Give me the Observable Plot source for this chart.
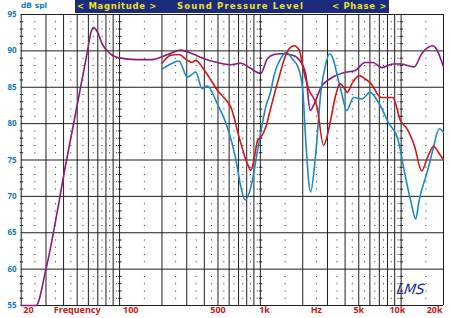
<!DOCTYPE html>
<html><head><meta charset="utf-8">
<script src="https://cdn.jsdelivr.net/npm/d3@7"></script>
<script src="https://cdn.jsdelivr.net/npm/@observablehq/plot@0.6"></script>
<style>
body{margin:0;background:#fff;}
#wrap{position:relative;width:450px;height:318px;overflow:hidden;font-family:"DejaVu Sans",sans-serif;}
#hdr{position:absolute;left:75px;top:0;width:314px;height:13px;background:#1c2b7c;}
.ht{position:absolute;top:0;font-weight:bold;font-size:8.5px;line-height:13px;color:#ece424;white-space:nowrap;}
#dbspl{position:absolute;left:21px;top:1px;font-weight:bold;font-size:7.5px;color:#1a7ab8;white-space:nowrap;}
#lms{position:absolute;left:397px;top:281px;font-family:"DejaVu Sans",sans-serif;font-style:italic;font-size:14px;color:#1a3290;letter-spacing:-0.5px;transform:skewX(-8deg);}
</style></head>
<body><div id="wrap">
<div id="chart"></div>
<div id="hdr"></div>
<div class="ht" data-w="80" style="left:77px">&lt; Magnitude &gt;</div>
<div class="ht" data-w="127" style="left:177px">Sound Pressure Level</div>
<div class="ht" data-w="55" style="left:332px">&lt; Phase &gt;</div>
<div id="dbspl">dB spl</div>
<div id="lms">LMS</div>
</div>
<script>
// Magnitude (purple) curve
const magFreq = [20,25.5,30,42,59.2,62.5,65.5,70,75,86,102,130,170,220,272,330,378,495,611,727,850,1006,1120,1250,1400,1700,1900,2100,2258,2450,2696,3150,3900,4717,5540,6300,7300,8700,9900,12400,14000,16800,20000];
const magDb   = [55,55,60,75,90,92.5,93.2,92.5,91.0,89.6,89.0,88.8,88.8,89.5,90.1,89.6,89.1,88.4,88.1,88.3,87.6,86.9,88.9,89.5,89.6,89.4,88.7,86.8,81.8,83.0,85.0,86.2,87.0,87.3,88.4,88.4,87.7,88.2,88.2,87.8,89.6,90.7,87.8];
// Red curve
const redFreq = [200,231,264,303,328,347,386,432,495,583,616,707,808,857,910,955,1006,1093,1180,1280,1400,1470,1600,1737,1900,2000,2200,2526,2815,3000,3150,3400,3680,3900,4140,4500,5036,5500,6100,7200,8730,9900,11000,12500,14000,15500,17000,18500,20000];
const redDb   = [88.3,89.4,89.5,88.7,88.4,88.7,87.8,86.4,84.6,83.0,82.3,78.1,74.5,73.6,75.5,77.7,78.1,79.5,82.0,84.6,87.3,88.7,90.3,90.7,90.0,87.8,84.8,82.3,77.0,78.5,80.4,83.6,85.5,85.0,84.3,85.6,86.6,86.2,85.5,83.6,83.6,80.4,79.3,76.8,73.5,75.5,76.9,76.0,75.0];
// Blue curve
const blueFreq = [200,231,264,303,328,347,386,418,495,583,665,727,780,857,955,1093,1190,1250,1400,1525,1700,1850,2000,2100,2275,2460,2700,2900,3100,3300,3500,3800,4100,4600,5300,6000,7000,8200,9400,9900,10500,11700,12700,13400,15450,16760,18670,20000];
const blueDb   = [87.5,88.2,88.6,86.4,86.8,87.1,84.8,85.2,82.7,79.5,75.4,71.3,69.5,71.3,76.3,82.3,84.6,86.6,89.0,89.8,88.8,87.8,84.6,77.7,70.6,75.4,84.6,88.0,89.6,88.8,86.8,84.0,81.8,83.6,83.4,84.3,82.7,80.0,78.1,76.3,73.6,69.4,66.9,69.4,73.6,76.3,79.3,78.8];

const yTicks = [55,60,65,70,75,80,85,90,95];
const solidFreqs = [20,30,40,50,60,70,80,90,100,200,300,400,500,600,700,800,900,1000,2000,3000,4000,5000,6000,7000,8000,9000,10000,20000];
const dottedFreqs = [25,35,45,55,65,75,85,95,150,250,350,450,550,650,750,850,950,1500,2500,3500,4500,5500,6500,7500,8500,9500,15000];
const tickedFreqs = [20,100,1000,10000];
const xLabelText = ["20","Frequency","100","500","1k","Hz","5k","10k","20k"];
const xLabelFreq = [22.5,50,120,500,1070,2500,5000,9400,17300];

const rows = (f, d) => f.map((x, i) => ({f: x, db: d[i]}));
const minorDb = d3.range(56, 95).filter(v => v % 5 !== 0);
const dotRows = dottedFreqs.flatMap(f => minorDb.map(db => ({f, db})));
const tickRows = tickedFreqs.flatMap(f => minorDb.map(db => ({f, db})));
const hTick = {draw(ctx){ ctx.rect(-1.5, -0.5, 3.5, 1); }};

const chart = Plot.plot({
  width: 450, height: 318,
  marginLeft: 20.7, marginRight: 7, marginTop: 14, marginBottom: 13,
  style: {background: "transparent", overflow: "visible"},
  x: {type: "log", domain: [20, 20000], axis: null},
  y: {domain: [55, 95], axis: null},
  marks: [
    Plot.ruleY(yTicks, {stroke: "#1e1e1e", strokeWidth: 1}),
    Plot.ruleX(solidFreqs, {stroke: "#1e1e1e", strokeWidth: 1}),
    Plot.dot(dotRows, {x: "f", y: "db", symbol: "square", r: 0.55, fill: "#222"}),
    Plot.dot(tickRows, {x: "f", y: "db", symbol: hTick, r: 2, fill: "#222"}),
    Plot.axisY({ticks: yTicks, tickSize: 0, tickPadding: 4.5, fill: "#1a7ab8", fontWeight: "bold", fontSize: 8, label: null}),
    Plot.line(rows(magFreq, magDb), {x: "f", y: "db", stroke: "#8a1a7c", strokeWidth: 1.6, curve: "monotone-x"}),
    Plot.line(rows(blueFreq, blueDb), {x: "f", y: "db", stroke: "#1a8ac4", strokeWidth: 1.6, curve: "monotone-x"}),
    Plot.line(rows(redFreq, redDb), {x: "f", y: "db", stroke: "#d01818", strokeWidth: 1.6, curve: "monotone-x"}),
    Plot.text(xLabelText, {x: (d, i) => xLabelFreq[i], frameAnchor: "bottom", dy: 7.5, fill: "#c41a1a", fontWeight: "bold", fontSize: 9, textAnchor: "middle", ariaLabel: "xlabels"})
  ]
});
document.getElementById("chart").appendChild(chart);
d3.select(chart).selectAll('g[aria-label="xlabels"] text').style("letter-spacing", "1px")
  .filter(function(){ return this.textContent === "Frequency"; }).style("letter-spacing", "1.2px");
document.querySelectorAll(".ht").forEach(el => {
  const target = +el.dataset.w;
  const n = el.textContent.length;
  const w = el.getBoundingClientRect().width;
  el.style.letterSpacing = ((target - w) / n) + "px";
});
</script>
</body></html>
